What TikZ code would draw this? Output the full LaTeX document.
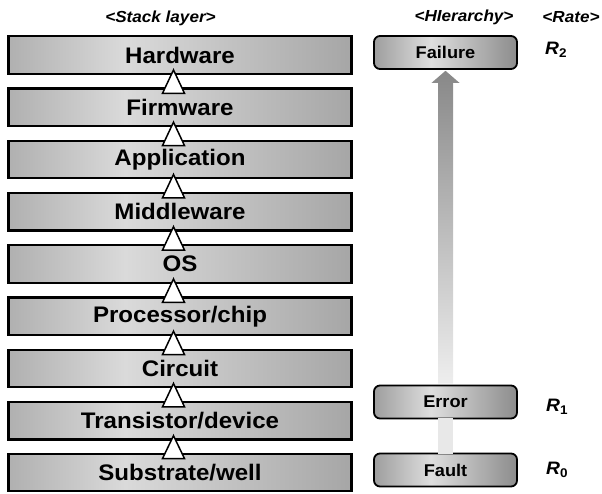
\documentclass[tikz,border=0pt]{standalone}
\usepackage{fontspec}
\setmainfont{Liberation Sans}
\newfontfamily\stackfont[FakeStretch=1.07]{Liberation Sans}
\usetikzlibrary{calc}
\definecolor{lsA}{HTML}{B0B0B0}
\definecolor{lsB}{HTML}{DADADA}
\definecolor{lsC}{HTML}{A6A6A6}
\definecolor{rsA}{HTML}{9E9E9E}
\definecolor{rsB}{HTML}{DEDEDE}
\definecolor{rsC}{HTML}{8C8C8C}
\definecolor{arLo}{HTML}{EEEEEE}
\definecolor{arHi}{HTML}{888888}
\definecolor{barc}{HTML}{E8E8E8}
\pgfdeclarehorizontalshading{layershade}{100bp}{color(0bp)=(lsA); color(25bp)=(lsA); color(42bp)=(lsB); color(75bp)=(lsC); color(100bp)=(lsC)}
\pgfdeclarehorizontalshading{levelshade}{100bp}{color(0bp)=(rsA); color(25bp)=(rsA); color(45bp)=(rsB); color(75bp)=(rsC); color(100bp)=(rsC)}
\pgfdeclareverticalshading{arrowshade}{100bp}{color(0bp)=(arLo); color(25bp)=(arLo); color(75bp)=(arHi); color(100bp)=(arHi)}
\begin{document}
\begin{tikzpicture}[x=1pt,y=1pt,
 layer/.style={draw=black, line width=2.4pt, shade, shading=layershade, minimum width=343pt, minimum height=37.5pt, inner sep=0pt, font=\stackfont\bfseries\fontsize{22.5}{24}\selectfont},
 level/.style={draw=black, line width=1.8pt, rounded corners=6pt, shade, shading=levelshade, minimum width=143pt, minimum height=33pt, inner sep=0pt, font=\stackfont\bfseries\fontsize{17}{19}\selectfont},
 head/.style={font=\stackfont\bfseries\itshape\fontsize{16}{18}\selectfont},
 rate/.style={anchor=west, inner sep=0pt, font=\stackfont\bfseries\itshape\fontsize{18}{20}\selectfont},
 upa/.style={draw=black, line width=1.5pt, fill=white, line join=miter},
]
\useasboundingbox (0,0) rectangle (602,493);
% headers
\node[head] (hstack) at (160.5,475) {<Stack layer>};
\node[head] (hhier) at (464,476) {<HIerarchy>};
\node[head] (hrate) at (571,476) {<Rate>};
% stack layers
\node[layer] (hw)   at (180,438)    {Hardware};
\node[layer] (fw)   at (180,385.75) {Firmware};
\node[layer] (app)  at (180,333.5)  {Application};
\node[layer] (mw)   at (180,281.25) {Middleware};
\node[layer] (os)   at (180,229)    {OS};
\node[layer] (proc) at (180,176.75) {Processor/chip};
\node[layer] (circ) at (180,124.5)  {Circuit};
\node[layer] (tran) at (180,72.25)  {Transistor/device};
\node[layer] (sub)  at (180,20.5)   {Substrate/well};
% open triangles between layers
\foreach \lo/\up in {fw/hw, app/fw, mw/app, os/mw, proc/os, circ/proc, tran/circ, sub/tran}{
  \draw[upa] ($(\lo.north)+(-17.5,-6)$) -- ($(\up.south)+(-6.5,5)$) -- ($(\lo.north)+(4.5,-6)$) -- cycle;
}
% hierarchy
\coordinate (fpos) at (445.5,440.5);
\coordinate (epos) at (445.5,91);
\coordinate (tpos) at (445.5,23);
\node[level] (failure) at (fpos) {Failure};
\node[level] (error) at (epos) {Error};
\node[level] (fault) at (tpos) {Fault};
\fill[barc] ($(fault.north)+(-7.5,-1)$) rectangle ($(error.south)+(7.5,1)$);
\shade[shading=arrowshade] ($(error.north)+(-7.5,0.9)$) -- ($(failure.south)+(-7.5,-13)$) -- ($(failure.south)+(-14,-13)$) -- ($(failure.south)+(0,-0.9)$) -- ($(failure.south)+(14,-13)$) -- ($(failure.south)+(7.5,-13)$) -- ($(error.north)+(7.5,0.9)$) -- cycle;
% rates
\node[rate] (r2) at (545,443) {R\textsubscript{\upshape 2}};
\node[rate] (r1) at (546,86) {R\textsubscript{\upshape 1}};
\node[rate] (r0) at (546,23) {R\textsubscript{\upshape 0}};
\end{tikzpicture}
\end{document}
